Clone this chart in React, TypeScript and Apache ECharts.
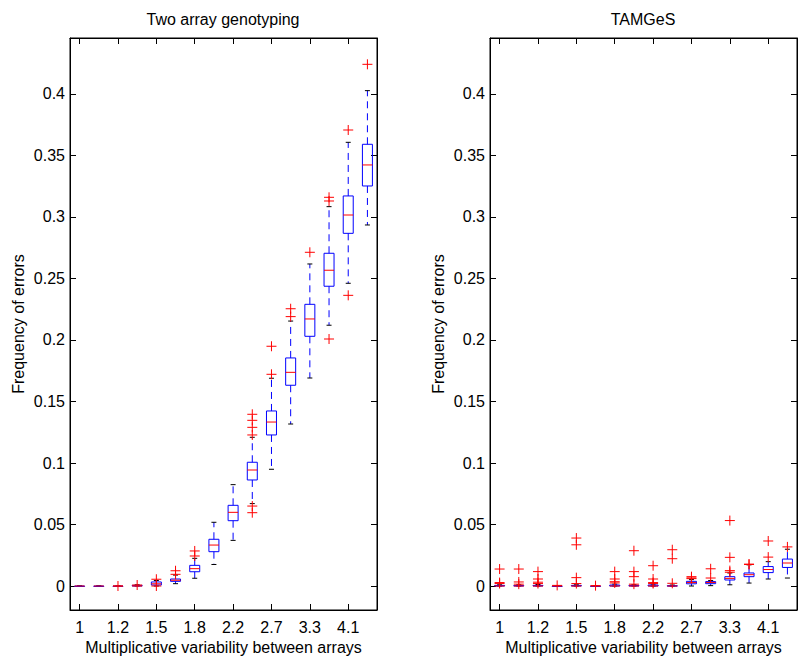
import React, { useEffect, useRef } from "react";
import * as echarts from "echarts";

const categories = ["1", "1.1", "1.2", "1.35", "1.5", "1.65", "1.8", "2", "2.2", "2.45", "2.7", "3", "3.3", "3.7", "4.1", "4.5"];
const yTicks = [0, 0.05, 0.1, 0.15, 0.2, 0.25, 0.3, 0.35, 0.4];

// [lowerWhisker, q1, median, q3, upperWhisker]
const twoArrayBoxes = [
  [0, 0, 0, 0, 0],
  [0, 0, 0, 0, 0],
  [0, 0, 0, 0, 0],
  [0, 0, 0, 0.0005, 0.001],
  [0, 0.0008, 0.0018, 0.0033, 0.0045],
  [0.0019, 0.0038, 0.0047, 0.0057, 0.0089],
  [0.0063, 0.0116, 0.0141, 0.0168, 0.0225],
  [0.0175, 0.0279, 0.0333, 0.038, 0.0518],
  [0.0371, 0.0531, 0.0599, 0.0656, 0.0824],
  [0.067, 0.0862, 0.0943, 0.1006, 0.1209],
  [0.0949, 0.1228, 0.1333, 0.1423, 0.1689],
  [0.1317, 0.1632, 0.1737, 0.1854, 0.2154],
  [0.1691, 0.203, 0.2171, 0.229, 0.2618],
  [0.212, 0.2437, 0.2567, 0.2705, 0.3084],
  [0.2461, 0.2867, 0.3016, 0.3171, 0.3607],
  [0.2935, 0.3252, 0.3423, 0.3591, 0.4027],
];
const twoArrayOutliers = [
  [],
  [],
  [0],
  [0.0008],
  [0.0055, 0],
  [0.0124, 0.0095],
  [0.0285, 0.0244],
  [],
  [],
  [0.1396, 0.1347, 0.129, 0.1228, 0.065, 0.0596],
  [0.1949, 0.1721],
  [0.2254, 0.219],
  [0.2713],
  [0.316, 0.313, 0.2008],
  [0.3707, 0.2363],
  [0.4241],
];

const tamgesBoxes = [
  [0, 0, 0, 0.0005, 0.001],
  [0, 0, 0, 0.0004, 0.001],
  [0, 0, 0, 0.0005, 0.0012],
  [0, 0, 0, 0, 0],
  [0, 0, 0, 0.0005, 0.001],
  [0, 0, 0, 0, 0],
  [0, 0, 0, 0.0008, 0.0015],
  [0, 0, 0, 0.0005, 0.001],
  [0, 0, 0, 0.0008, 0.0015],
  [0, 0, 0, 0.0003, 0.0008],
  [0, 0.0018, 0.0028, 0.0038, 0.0052],
  [0.0003, 0.0019, 0.0029, 0.0036, 0.0045],
  [0.001, 0.0049, 0.0062, 0.0076, 0.0106],
  [0.0024, 0.0076, 0.0092, 0.0106, 0.0172],
  [0.0057, 0.0109, 0.0134, 0.0158, 0.0198],
  [0.0065, 0.0151, 0.0187, 0.0219, 0.0299],
];
const tamgesOutliers = [
  [0.0138, 0.0028, 0.002],
  [0.0138, 0.0033, 0.0015],
  [0.0117, 0.0057, 0.0031, 0.002],
  [0.0005],
  [0.039, 0.0335, 0.0068, 0.002],
  [0.0003],
  [0.0117, 0.0057, 0.0035, 0.0025],
  [0.0287, 0.0117, 0.0076, 0.0015],
  [0.0165, 0.0057, 0.0028, 0.002],
  [0.0295, 0.0222, 0.0022],
  [0.0076, 0.0066, 0.006],
  [0.014, 0.0065],
  [0.0532, 0.0233, 0.0125, 0.0112],
  [0.0178, 0.0175],
  [0.0366, 0.0235],
  [0.0318],
];

const FONT = "Liberation Sans, Arial, sans-serif";
const FS = 16;
const BLUE = "#0000FF";
const RED = "#FF0000";

function boxRender(params: any, api: any) {
  const x = api.value(0);
  const p = [1, 2, 3, 4, 5].map((i) => api.coord([x, api.value(i)]));
  const cx = p[0][0];
  const [yLo, yQ1, yMed, yQ3, yHi] = p.map((q: number[]) => q[1]);
  const bw = 5;
  const cw = 2.5;
  const dash = { stroke: BLUE, lineWidth: 1, lineDash: [7, 5], fill: null };
  return {
    type: "group",
    children: [
      { type: "line", shape: { x1: cx, y1: yQ1, x2: cx, y2: yLo }, style: dash },
      { type: "line", shape: { x1: cx, y1: yQ3, x2: cx, y2: yHi }, style: dash },
      { type: "line", shape: { x1: cx - cw, y1: yLo, x2: cx + cw, y2: yLo }, style: { stroke: "#000", lineWidth: 1 } },
      { type: "line", shape: { x1: cx - cw, y1: yHi, x2: cx + cw, y2: yHi }, style: { stroke: "#000", lineWidth: 1 } },
      { type: "rect", shape: { x: cx - bw, y: yQ3, width: 2 * bw, height: Math.max(yQ1 - yQ3, 0.5) }, style: { stroke: BLUE, fill: null, lineWidth: 1 } },
      { type: "line", shape: { x1: cx - bw, y1: yMed, x2: cx + bw, y2: yMed }, style: { stroke: RED, lineWidth: 1 } },
    ],
  };
}

function plusRender(params: any, api: any) {
  const c = api.coord([api.value(0), api.value(1)]);
  const s = 5;
  return {
    type: "group",
    children: [
      { type: "line", shape: { x1: c[0] - s, y1: c[1], x2: c[0] + s, y2: c[1] }, style: { stroke: RED, lineWidth: 1 } },
      { type: "line", shape: { x1: c[0], y1: c[1] - s, x2: c[0], y2: c[1] + s }, style: { stroke: RED, lineWidth: 1 } },
    ],
  };
}

function boxData(boxes: number[][]) {
  return boxes.map((b, i) => [i, ...b]);
}
function outlierData(outs: number[][]) {
  const d: number[][] = [];
  outs.forEach((arr, i) => arr.forEach((v) => d.push([i, v])));
  return d;
}

export default function App() {
  const ref = useRef<HTMLDivElement>(null);
  useEffect(() => {
    const chart = echarts.init(ref.current!, null, { renderer: "svg" });
    const grids = [
      { left: 70, top: 38, width: 307, height: 572, show: true, borderColor: "#000", borderWidth: 1, backgroundColor: "transparent" },
      { left: 490, top: 38, width: 307, height: 572, show: true, borderColor: "#000", borderWidth: 1, backgroundColor: "transparent" },
    ];
    const mkLine = () => ({ show: true, onZero: false, lineStyle: { color: "#000", width: 1 } });
    const xAxes: any[] = [];
    const yAxes: any[] = [];
    grids.forEach((g, gi) => {
      xAxes.push({
        type: "category",
        gridIndex: gi,
        data: categories,
        boundaryGap: true,
        position: "bottom",
        axisLine: mkLine(),
        axisTick: { show: true, inside: true, length: 6, alignWithLabel: true, interval: 1, lineStyle: { color: "#000" } },
        axisLabel: { interval: 1, color: "#000", fontSize: FS, fontFamily: FONT, margin: 9 },
        splitLine: { show: false },
        name: "Multiplicative variability between arrays",
        nameLocation: "middle",
        nameGap: 29,
        nameTextStyle: { color: "#000", fontSize: FS, fontFamily: FONT },
      });
      xAxes.push({
        type: "category",
        gridIndex: gi,
        data: categories,
        boundaryGap: true,
        position: "top",
        axisLine: mkLine(),
        axisTick: { show: true, inside: true, length: 6, alignWithLabel: true, interval: 1, lineStyle: { color: "#000" } },
        axisLabel: { show: false },
        splitLine: { show: false },
      });
      yAxes.push({
        type: "value",
        gridIndex: gi,
        min: -0.0195,
        max: 0.4455,
        position: "left",
        axisLine: mkLine(),
        axisTick: { show: true, inside: true, length: 6, customValues: yTicks, lineStyle: { color: "#000" } },
        axisLabel: { customValues: yTicks, color: "#000", fontSize: FS, fontFamily: FONT, margin: 5 },
        splitLine: { show: false },
        name: "Frequency of errors",
        nameLocation: "middle",
        nameGap: 44,
        nameRotate: 90,
        nameTextStyle: { color: "#000", fontSize: FS, fontFamily: FONT },
      });
      yAxes.push({
        type: "value",
        gridIndex: gi,
        min: -0.0195,
        max: 0.4455,
        position: "right",
        axisLine: mkLine(),
        axisTick: { show: true, inside: true, length: 6, customValues: yTicks, lineStyle: { color: "#000" } },
        axisLabel: { show: false },
        splitLine: { show: false },
      });
    });
    const panels = [
      { boxes: twoArrayBoxes, outs: twoArrayOutliers },
      { boxes: tamgesBoxes, outs: tamgesOutliers },
    ];
    const series: any[] = [];
    panels.forEach((p, gi) => {
      series.push({
        type: "custom",
        xAxisIndex: gi * 2,
        yAxisIndex: gi * 2,
        renderItem: boxRender,
        encode: { x: 0, y: [1, 2, 3, 4, 5] },
        data: boxData(p.boxes),
        clip: false,
      });
      series.push({
        type: "custom",
        xAxisIndex: gi * 2,
        yAxisIndex: gi * 2,
        renderItem: plusRender,
        encode: { x: 0, y: 1 },
        data: outlierData(p.outs),
        clip: false,
      });
    });
    chart.setOption({
      animation: false,
      backgroundColor: "#fff",
      grid: grids,
      xAxis: xAxes,
      yAxis: yAxes,
      series,
      graphic: [
        { type: "text", x: 223, y: 19, style: { text: "Two array genotyping", fontSize: FS, fontFamily: FONT, fill: "#000", textAlign: "center", textVerticalAlign: "middle" } },
        { type: "text", x: 643, y: 19, style: { text: "TAMGeS", fontSize: FS, fontFamily: FONT, fill: "#000", textAlign: "center", textVerticalAlign: "middle" } },
      ],
    });
    return () => chart.dispose();
  }, []);
  return <div ref={ref} style={{ width: 812, height: 664, position: "absolute", left: 0, top: 0 }} />;
}
